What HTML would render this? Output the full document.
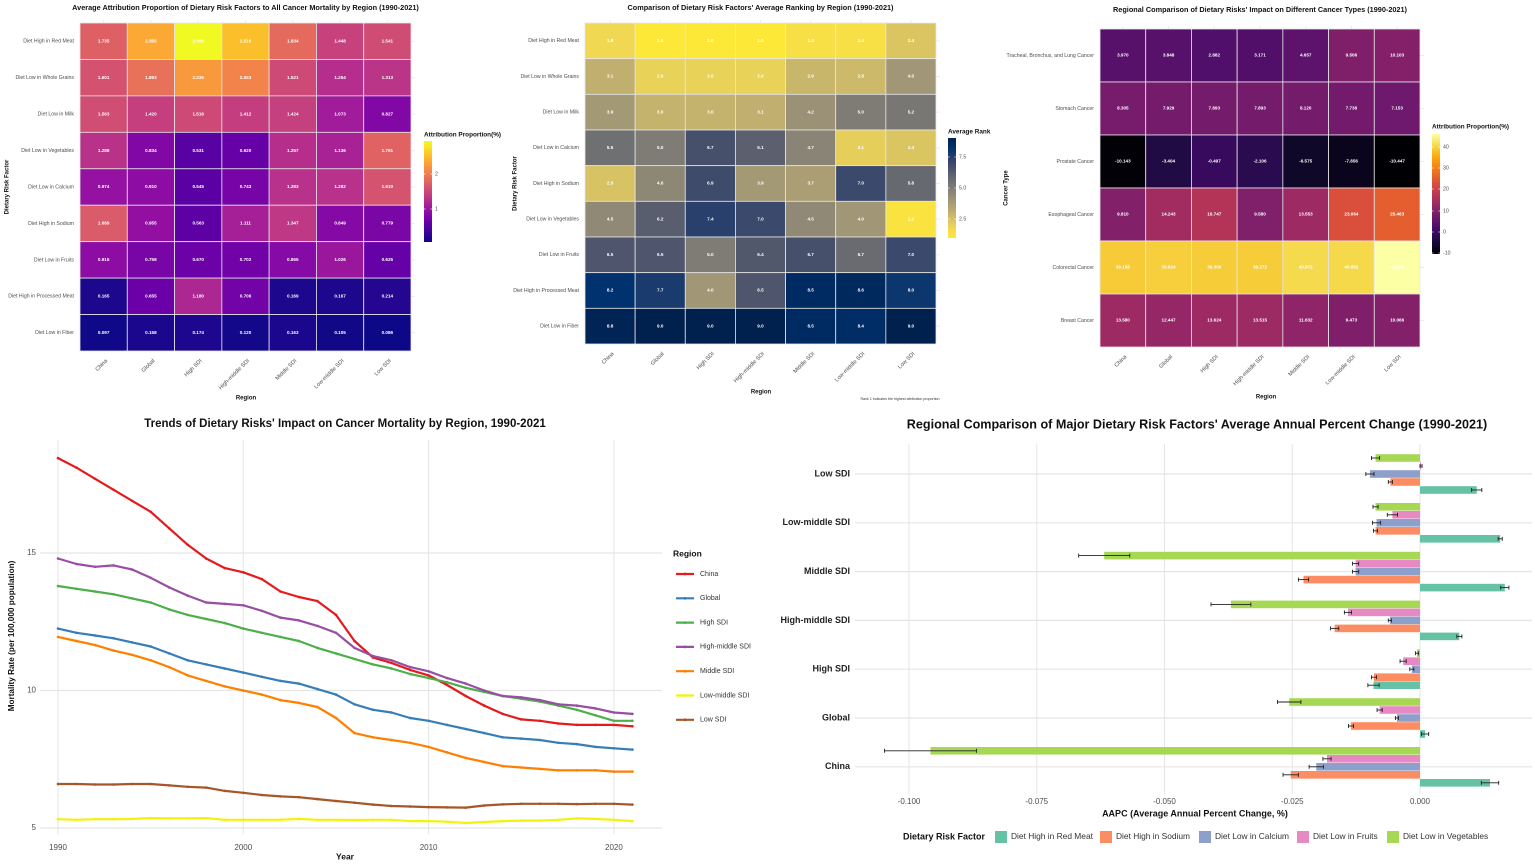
<!DOCTYPE html>
<html><head><meta charset="utf-8"><style>
html,body{margin:0;padding:0;background:#fff;}
svg{display:block;font-family:"Liberation Sans",Arial,sans-serif;}
</style></head><body>
<svg id="s" width="1535" height="865" viewBox="0 0 1535 865" xmlns="http://www.w3.org/2000/svg"></svg>
<script>
const out=[];
function T(x,y,s,o){o=o||{};out.push(`<text x="${x}" y="${y}" font-size="${o.fs||6}" fill="${o.c||'#4d4d4d'}" text-anchor="${o.a||'start'}" ${o.b?'font-weight="bold"':''} ${o.r!==undefined?`transform="rotate(${o.r} ${x} ${y})"`:''} dominant-baseline="${o.db||'middle'}">${s}</text>`);}
function R(x,y,w,h,f,o){o=o||'';out.push(`<rect x="${x}" y="${y}" width="${w}" height="${h}" fill="${f}" ${o}/>`);}
function L(x1,y1,x2,y2,c,w){out.push(`<line x1="${x1}" y1="${y1}" x2="${x2}" y2="${y2}" stroke="${c}" stroke-width="${w||1}"/>`);}
function hex(h){return [1,3,5].map(i=>parseInt(h.substr(i,2),16));}
function scale(stops){const cs=stops.map(hex);return t=>{t=Math.max(0,Math.min(1,t));const n=cs.length-1;const i=Math.min(n-1,Math.floor(t*n));const f=t*n-i;const a=cs[i],b=cs[i+1];return `rgb(${a.map((v,k)=>Math.round(v+(b[k]-v)*f)).join(',')})`;};}
const plasma=scale(['#0d0887','#41049d','#6a00a8','#8f0da4','#b12a90','#cc4778','#e16462','#f2844b','#fca636','#fcce25','#f0f921']);
const inferno=scale(['#000004','#160b39','#420a68','#6a176e','#932667','#bc3754','#dd513a','#f37819','#fca50a','#f6d746','#fcffa4']);
const cividis=scale(['#00204d','#00326f','#2a406c','#4a526b','#666970','#7f7c75','#9a9177','#b5a672','#d3bf66','#f0d853','#fde737']);
const regions=['China','Global','High SDI','High-middle SDI','Middle SDI','Low-middle SDI','Low SDI'];
const fac9=['Diet High in Red Meat','Diet Low in Whole Grains','Diet Low in Milk','Diet Low in Vegetables','Diet Low in Calcium','Diet High in Sodium','Diet Low in Fruits','Diet High in Processed Meat','Diet Low in Fiber'];
const fac9b=['Diet High in Red Meat','Diet Low in Whole Grains','Diet Low in Milk','Diet Low in Calcium','Diet High in Sodium','Diet Low in Vegetables','Diet Low in Fruits','Diet High in Processed Meat','Diet Low in Fiber'];

function heat(o){
 const nr=o.rows.length,nc=regions.length,cw=(o.x1-o.x0)/nc,rh=(o.y1-o.y0)/nr;
 for(let j=0;j<nc;j++){L(o.x0+cw*(j+.5),o.y0-3,o.x0+cw*(j+.5),o.y0,'#ebebeb');}
 for(let i=0;i<nr;i++){L(o.x1,o.y0+rh*(i+.5),o.x1+4,o.y0+rh*(i+.5),'#ebebeb');}
 for(let i=0;i<nr;i++)for(let j=0;j<nc;j++){
  const v=o.data[i][j];R(o.x0+cw*j,o.y0+rh*i,cw,rh,o.col(v),'stroke="#e6e6e6" stroke-width="0.8"');
  T(o.x0+cw*(j+.5),o.y0+rh*(i+.5),o.fmt(v),{fs:4.6,c:'#fff',a:'middle',b:1});
 }
 for(let i=0;i<nr;i++)T(o.x0-6,o.y0+rh*(i+.5),o.rows[i],{fs:5.2,a:'end'});
 for(let j=0;j<nc;j++){const x=o.x0+cw*(j+.5),y=o.y1+9;T(x+3,y,regions[j],{fs:5.6,a:'end',r:-45});}
 T((o.x0+o.x1)/2,o.title[1],o.title[0],{fs:7.3,c:'#111',a:'middle',b:1});
 T(o.rx,o.ry,'Region',{fs:6,c:'#111',a:'middle',b:1});
 T(o.yx,(o.y0+o.y1)/2,o.ytitle,{fs:6,c:'#111',a:'middle',b:1,r:-90});
 const lg=o.leg;T(lg.x,lg.ty,lg.title,{fs:6.4,c:'#111',b:1});
 const id='g'+Math.random().toString(36).slice(2);
 let st='';for(let k=0;k<=20;k++){const t=k/20;st+=`<stop offset="${t}" stop-color="${lg.col(1-t)}"/>`;}
 out.push(`<defs><linearGradient id="${id}" x1="0" y1="0" x2="0" y2="1">${st}</linearGradient></defs>`);
 R(lg.x,lg.y0,8,lg.y1-lg.y0,`url(#${id})`);
 lg.ticks.forEach(([y,s])=>{L(lg.x,y,lg.x+1.6,y,'#fff',0.6);L(lg.x+6.4,y,lg.x+8,y,'#fff',0.6);T(lg.x+11,y,s,{fs:5.2});});
}
const d1=[[1.735,2.355,2.906,2.516,1.834,1.448,1.541],[1.601,1.893,2.236,2.063,1.521,1.254,1.313],[1.563,1.420,1.516,1.412,1.424,1.073,0.827],[1.288,0.834,0.531,0.620,1.257,1.136,1.761],[0.974,0.910,0.545,0.743,1.283,1.282,1.610],[1.689,0.955,0.563,1.111,1.347,0.849,0.779],[0.915,0.758,0.670,0.702,0.865,1.026,0.625],[0.165,0.655,1.180,0.706,0.169,0.167,0.214],[0.097,0.158,0.174,0.120,0.163,0.105,0.086]];
const c1=v=>plasma((v-0.086)/(2.906-0.086));
heat({x0:80,x1:411,y0:23,y1:351,rows:fac9,data:d1,col:c1,fmt:v=>v.toFixed(3),title:['Average Attribution Proportion of Dietary Risk Factors to All Cancer Mortality by Region (1990-2021)',8],rx:246,ry:398,yx:7,ytitle:'Dietary Risk Factor',
 leg:{x:424,ty:135,y0:141,y1:242,title:'Attribution Proportion(%)',col:t=>plasma((t*(2.94-0.06)+0.06-0.086)/2.82),ticks:[[174,'2'],[209,'1']]}});
const d2=[[1.8,1.0,1.0,1.0,1.4,1.4,2.4],[3.1,2.0,2.0,2.0,2.9,2.8,4.0],[3.9,3.0,3.0,3.1,4.2,5.0,5.2],[5.5,5.0,6.7,6.1,4.7,2.1,2.4],[2.5,4.6,6.9,3.9,3.7,7.0,5.8],[4.5,6.2,7.4,7.0,4.5,4.0,1.2],[6.5,6.5,5.0,6.4,6.7,5.7,7.0],[8.2,7.7,4.0,6.5,8.5,8.6,8.0],[8.8,9.0,9.0,9.0,8.5,8.4,9.0]];
const c2=v=>cividis((9-v)/8);
heat({x0:585,x1:936,y0:23,y1:344,rows:fac9b,data:d2,col:c2,fmt:v=>v.toFixed(1),title:["Comparison of Dietary Risk Factors' Average Ranking by Region (1990-2021)",8],rx:761,ry:392,yx:515,ytitle:'Dietary Risk Factor',
 leg:{x:948,ty:132,y0:138,y1:238,title:'Average Rank',col:t=>cividis(1-t),ticks:[[157,'7.5'],[188,'5.0'],[219,'2.5']]}});
T(900,399,'Rank 1 indicates the highest attribution proportion',{fs:3.6,c:'#333',a:'middle'});
const d3=[[3.970,3.848,2.882,3.171,4.657,9.506,10.103],[8.305,7.929,7.893,7.893,8.120,7.738,7.153],[-10.143,-3.404,-0.497,-2.106,-6.575,-7.856,-10.447],[9.810,14.243,16.747,9.580,13.553,23.064,25.463],[39.158,39.624,39.306,39.272,40.972,40.852,46.206],[13.580,12.447,13.624,13.515,11.632,9.473,10.066]];
const c3=v=>inferno((v+10.447)/(46.206+10.447));
heat({x0:1100,x1:1420,y0:29,y1:347,rows:['Tracheal, Bronchus, and Lung Cancer','Stomach Cancer','Prostate Cancer','Esophageal Cancer','Colorectal Cancer','Breast Cancer'],data:d3,col:c3,fmt:v=>v.toFixed(3),title:["Regional Comparison of Dietary Risks' Impact on Different Cancer Types (1990-2021)",10],rx:1266,ry:397,yx:1006,ytitle:'Cancer Type',
 leg:{x:1432,ty:127,y0:134,y1:254,title:'Attribution Proportion(%)',col:t=>inferno(t),ticks:[[147,'40'],[168,'30'],[189,'20'],[211,'10'],[232,'0'],[253,'-10']]}});

const X=yr=>58+18.53*(yr-1990),Y=v=>828-27.5*(v-5);
[1990,2000,2010,2020].forEach(y=>{L(X(y),440,X(y),834,'#e5e5e5',1);T(X(y),848,String(y),{fs:8,a:'middle'});});
[5,10,15].forEach(v=>{L(40,Y(v),662,Y(v),'#e5e5e5',1.2);T(36,Y(v),String(v),{fs:8,a:'end'});});
const ser=[
['China','#e41a1c',[18.45,18.1,17.7,17.3,16.9,16.5,15.9,15.3,14.8,14.45,14.3,14.05,13.6,13.4,13.25,12.75,11.8,11.2,11.0,10.75,10.55,10.2,9.8,9.45,9.15,8.95,8.9,8.8,8.75,8.75,8.75,8.7]],
['Global','#377eb8',[12.25,12.1,12.0,11.9,11.75,11.6,11.35,11.1,10.95,10.8,10.65,10.5,10.35,10.25,10.05,9.85,9.5,9.3,9.2,9.0,8.9,8.75,8.6,8.45,8.3,8.25,8.2,8.1,8.05,7.95,7.9,7.85]],
['High SDI','#4daf4a',[13.8,13.7,13.6,13.5,13.35,13.2,12.95,12.75,12.6,12.45,12.25,12.1,11.95,11.8,11.55,11.35,11.15,10.95,10.8,10.6,10.45,10.3,10.1,9.95,9.8,9.7,9.6,9.45,9.3,9.1,8.9,8.9]],
['High-middle SDI','#984ea3',[14.8,14.6,14.5,14.55,14.4,14.1,13.75,13.45,13.2,13.15,13.1,12.9,12.65,12.55,12.35,12.1,11.55,11.25,11.1,10.85,10.7,10.45,10.25,10.0,9.8,9.75,9.65,9.5,9.45,9.35,9.2,9.15]],
['Middle SDI','#ff7f00',[11.95,11.8,11.65,11.45,11.3,11.1,10.85,10.55,10.35,10.15,10.0,9.85,9.65,9.55,9.4,9.0,8.45,8.3,8.2,8.1,7.95,7.75,7.55,7.4,7.25,7.2,7.15,7.1,7.1,7.1,7.05,7.05]],
['Low-middle SDI','#f2f20a',[5.32,5.3,5.32,5.32,5.33,5.36,5.35,5.35,5.36,5.3,5.3,5.3,5.3,5.33,5.3,5.3,5.29,5.3,5.3,5.25,5.25,5.23,5.18,5.22,5.25,5.27,5.27,5.3,5.35,5.33,5.3,5.25]],
['Low SDI','#a65628',[6.6,6.6,6.58,6.58,6.6,6.6,6.55,6.5,6.47,6.35,6.28,6.2,6.15,6.12,6.05,5.98,5.92,5.85,5.8,5.78,5.76,5.75,5.74,5.82,5.86,5.88,5.88,5.88,5.87,5.88,5.88,5.85]]];
ser.forEach((s,k)=>{const pts=s[2].map((v,i)=>`${X(1990+i).toFixed(1)},${Y(v).toFixed(1)}`);
 out.push(`<polyline points="${pts.join(' ')}" fill="none" stroke="${s[1]}" stroke-width="2.2" stroke-linejoin="round"/>`);
 s[2].forEach((v,i)=>out.push(`<circle cx="${X(1990+i).toFixed(1)}" cy="${Y(v).toFixed(1)}" r="1.3" fill="${s[1]}"/>`));
 const ly=574+k*24.3;L(676,ly,694,ly,s[1],2.2);out.push(`<circle cx="685" cy="${ly}" r="1.4" fill="${s[1]}"/>`);T(700,ly,s[0],{fs:7,c:'#333'});});
T(673,554,'Region',{fs:8.5,c:'#111',b:1});
T(345,424,"Trends of Dietary Risks' Impact on Cancer Mortality by Region, 1990-2021",{fs:11.5,c:'#111',a:'middle',b:1});
T(345,857,'Year',{fs:8.5,c:'#111',a:'middle',b:1});
T(12,636,'Mortality Rate (per 100,000 population)',{fs:8.2,c:'#111',a:'middle',b:1,r:-90});

const BX=v=>1420+v*5110;
[-0.1,-0.075,-0.05,-0.025,0].forEach(v=>{L(BX(v),444,BX(v),794,'#e5e5e5',1);T(BX(v),802,v.toFixed(3),{fs:8,a:'middle'});});
const cats=['Low SDI','Low-middle SDI','Middle SDI','High-middle SDI','High SDI','Global','China'];
const cols=['#a6d854','#e78ac3','#8da0cb','#fc8d62','#66c2a5'];
const bd=[
[[-0.0087,.0008],[0.0002,.0002],[-0.0098,.0008],[-0.0058,.0004],[0.0111,.001]],
[[-0.0087,.0005],[-0.0054,.001],[-0.0085,.0008],[-0.0087,.0004],[0.0157,.0004]],
[[-0.0618,.005],[-0.0126,.0006],[-0.0126,.0006],[-0.0228,.001],[0.0166,.0008]],
[[-0.037,.0039],[-0.0141,.0007],[-0.0059,.0003],[-0.0167,.0008],[0.0077,.0005]],
[[-0.0006,.0003],[-0.0033,.0006],[-0.0016,.0004],[-0.009,.0005],[-0.0091,.0011]],
[[-0.0256,.0023],[-0.0079,.0005],[-0.0045,.0003],[-0.0135,.0005],[0.001,.0007]],
[[-0.0958,.009],[-0.0182,.0008],[-0.0203,.0014],[-0.0253,.0015],[0.0137,.0017]]];
cats.forEach((c,i)=>{const cy=474+i*48.8;L(855,cy,1532,cy,'#e5e5e5',1.2);T(850,cy,c,{fs:9,c:'#222',a:'end',b:1});
 bd[i].forEach(([v,e],k)=>{const y=cy+(k-2)*8;const x0=Math.min(BX(0),BX(v)),w=Math.abs(BX(v)-BX(0));R(x0,y-3.8,Math.max(w,0.8),7.6,cols[k]);
  const a=BX(v-e),b=BX(v+e);L(a,y,b,y,'#222',0.9);L(a,y-2,a,y+2,'#222',0.9);L(b,y-2,b,y+2,'#222',0.9);});});
T(1197,425,"Regional Comparison of Major Dietary Risk Factors' Average Annual Percent Change (1990-2021)",{fs:12.6,c:'#111',a:'middle',b:1});
T(1195,814,'AAPC (Average Annual Percent Change, %)',{fs:9,c:'#111',a:'middle',b:1});
T(903,837,'Dietary Risk Factor',{fs:9,c:'#111',b:1});
const ln=[['Diet High in Red Meat',995,'#66c2a5'],['Diet High in Sodium',1100,'#fc8d62'],['Diet Low in Calcium',1199,'#8da0cb'],['Diet Low in Fruits',1297,'#e78ac3'],['Diet Low in Vegetables',1387,'#a6d854']];
ln.forEach(([s,x,c])=>{R(x,831,12,12,c);T(x+16,837,s,{fs:8.4,c:'#333'});});
document.getElementById('s').innerHTML=out.join('');
</script>
</body></html>
